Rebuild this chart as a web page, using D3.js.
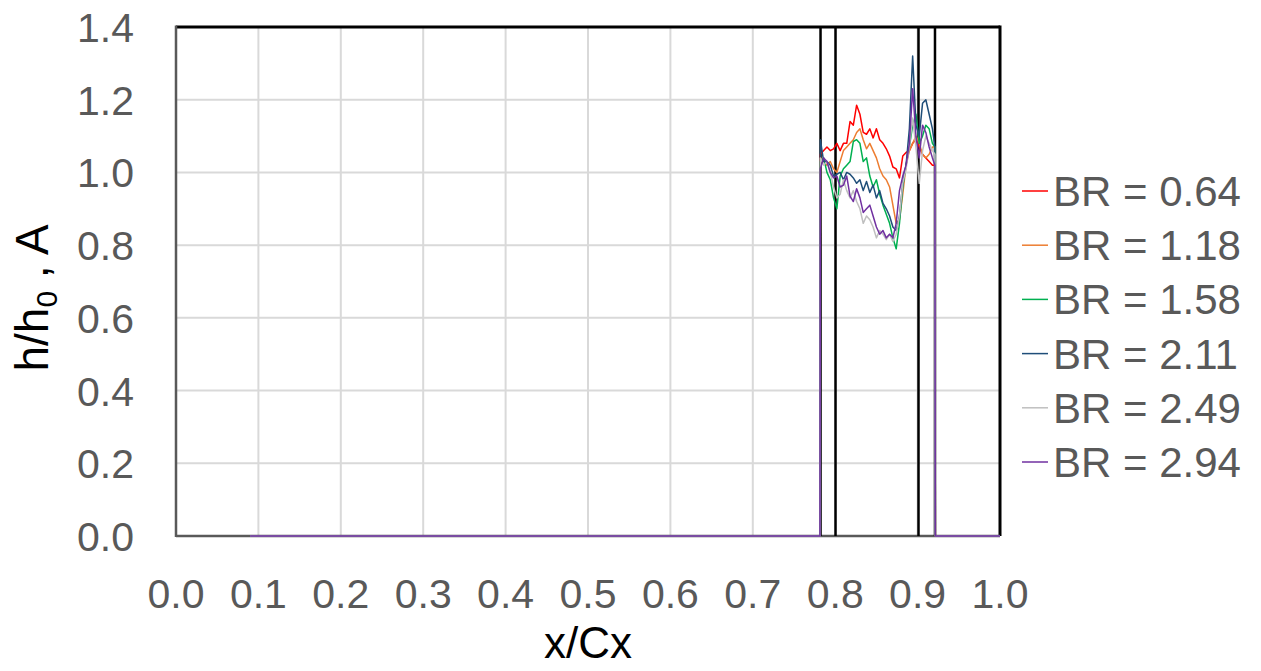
<!DOCTYPE html>
<html>
<head>
<meta charset="utf-8">
<script src="https://cdn.jsdelivr.net/npm/d3@7"></script>
<style>
  body { margin: 0; background: #fff; }
  svg { display: block; }
  text { font-family: "Liberation Sans", Arial, sans-serif; }
</style>
</head>
<body>
<script>
// x positions of the measured profile (x/Cx)
var xs = [0.782, 0.786, 0.790, 0.794, 0.798, 0.802, 0.806, 0.810, 0.814, 0.818,
          0.822, 0.826, 0.830, 0.834, 0.838, 0.842, 0.846, 0.850, 0.854, 0.858,
          0.862, 0.866, 0.870, 0.874, 0.878, 0.882, 0.886, 0.890, 0.894, 0.898,
          0.902, 0.906, 0.910, 0.914, 0.918, 0.921];

var br064 = [1.05, 1.06, 1.07, 1.06, 1.065, 1.08, 1.06, 1.08, 1.08, 1.14,
             1.13, 1.185, 1.16, 1.11, 1.105, 1.12, 1.095, 1.12, 1.09, 1.08,
             1.065, 1.045, 1.015, 1.01, 0.985, 1.045, 1.055, 1.06, 1.08, 1.09,
             1.07, 1.05, 1.04, 1.03, 1.02, 1.02];
var br118 = [1.04, 1.03, 1.02, 1.03, 1.01, 1.0, 1.03, 1.06, 1.07, 1.08,
             1.09, 1.11, 1.12, 1.09, 1.065, 1.08, 1.06, 1.04, 1.01, 0.99,
             0.98, 0.96, 0.91, 0.86, 0.87, 0.94, 1.02, 1.06, 1.08, 1.10,
             1.08, 1.05, 1.04, 1.05, 1.07, 1.07];
var br158 = [1.03, 1.04, 1.0, 0.98, 0.93, 0.90, 0.99, 1.01, 1.02, 1.03,
             1.085, 1.09, 1.08, 1.03, 1.04, 0.99, 0.96, 0.98, 0.94, 0.91,
             0.885, 0.86, 0.82, 0.79, 0.86, 0.96, 1.02, 1.07, 1.13, 1.16,
             1.08, 1.10, 1.13, 1.12, 1.08, 1.07];
var br211 = [1.09, 1.03, 1.03, 1.02, 0.99, 0.995, 1.0, 0.98, 1.0, 0.995,
             0.985, 0.97, 0.98, 0.95, 0.975, 0.945, 0.965, 0.93, 0.95, 0.915,
             0.90, 0.88, 0.85, 0.84, 0.88, 0.97, 1.02, 1.12, 1.32, 1.13,
             1.10, 1.19, 1.20, 1.16, 1.12, 1.07];
var br249 = [1.04, 1.02, 1.03, 1.0, 0.96, 0.93, 0.94, 0.98, 0.95, 0.93,
             0.95, 0.92, 0.90, 0.86, 0.88, 0.87, 0.85, 0.82, 0.84, 0.83,
             0.815, 0.83, 0.81, 0.83, 0.88, 0.97, 1.01, 1.07, 1.15, 1.07,
             0.97, 1.06, 1.10, 1.08, 1.06, 1.05];
var br294 = [1.01, 1.04, 1.03, 1.0, 0.985, 0.99, 0.96, 0.965, 0.99, 0.935,
             0.92, 0.955, 0.93, 0.89, 0.90, 0.91, 0.88, 0.85, 0.83, 0.84,
             0.82, 0.83, 0.82, 0.86, 0.95, 0.99, 1.02, 1.08, 1.23, 1.10,
             1.04, 1.13, 1.11, 1.07, 1.04, 1.02];

var seriesNames = ['BR = 0.64', 'BR = 1.18', 'BR = 1.58', 'BR = 2.11', 'BR = 2.49', 'BR = 2.94'];
var seriesValues = [br064, br118, br158, br211, br249, br294];
var seriesColors = ['#FF0000', '#ED7D31', '#00B050', '#1F4E79', '#BFBFBF', '#7030A0'];

// A: blade passage markers (vertical lines from 0 to 1.4)
var aX = [0.7822, 0.8004, 0.9011, 0.9211];

// zero stretches either side of the measured range
var zeroStart = 0.09, zeroEnd = 1.0;

var xTicks = [0.0, 0.1, 0.2, 0.3, 0.4, 0.5, 0.6, 0.7, 0.8, 0.9, 1.0];
var yTicks = [0.0, 0.2, 0.4, 0.6, 0.8, 1.0, 1.2, 1.4];

var chartW = 1261, chartH = 671;
var padLeft = 176, padTop = 27, plotW = 824, plotH = 509;

var svg = d3.select('body').append('svg')
            .attr('width', chartW)
            .attr('height', chartH);

var x = d3.scaleLinear().domain([0, 1]).range([padLeft, padLeft + plotW]);
var y = d3.scaleLinear().domain([0, 1.4]).range([padTop + plotH, padTop]);

// gridlines
svg.append('g').selectAll('line')
   .data(xTicks.slice(1, -1))
   .enter().append('line')
   .attr('x1', function (d) { return x(d); })
   .attr('x2', function (d) { return x(d); })
   .attr('y1', y(0)).attr('y2', y(1.4))
   .attr('stroke', '#D9D9D9').attr('stroke-width', 2);

svg.append('g').selectAll('line')
   .data(yTicks.slice(1, -1))
   .enter().append('line')
   .attr('x1', x(0)).attr('x2', x(1))
   .attr('y1', function (d) { return y(d); })
   .attr('y2', function (d) { return y(d); })
   .attr('stroke', '#D9D9D9').attr('stroke-width', 2);

// frame: top and right black, axes grey
svg.append('line').attr('x1', x(0)).attr('x2', x(1)).attr('y1', y(1.4)).attr('y2', y(1.4))
   .attr('stroke', '#000').attr('stroke-width', 3);
svg.append('line').attr('x1', x(1)).attr('x2', x(1)).attr('y1', y(1.4) - 1.5).attr('y2', y(0))
   .attr('stroke', '#000').attr('stroke-width', 3);
svg.append('line').attr('x1', x(0)).attr('x2', x(0)).attr('y1', y(1.4) - 1.5).attr('y2', y(0) + 1)
   .attr('stroke', '#595959').attr('stroke-width', 2.5);
svg.append('line').attr('x1', x(0)).attr('x2', x(1)).attr('y1', y(0)).attr('y2', y(0))
   .attr('stroke', '#595959').attr('stroke-width', 2.5);

// A series
svg.append('g').selectAll('line')
   .data(aX)
   .enter().append('line')
   .attr('x1', function (d) { return x(d); })
   .attr('x2', function (d) { return x(d); })
   .attr('y1', y(0)).attr('y2', y(1.4))
   .attr('stroke', '#000').attr('stroke-width', 2.5);

// BR series
var line = d3.line()
             .x(function (d) { return x(d[0]); })
             .y(function (d) { return y(d[1]); });

seriesValues.forEach(function (vals, i) {
    var pts = [[zeroStart, 0], [xs[0] - 0.0005, 0]];
    vals.forEach(function (v, j) { pts.push([xs[j], v]); });
    pts.push([xs[xs.length - 1] + 0.0005, 0]);
    pts.push([zeroEnd, 0]);
    svg.append('path')
       .datum(pts)
       .attr('d', line)
       .attr('fill', 'none')
       .attr('stroke', seriesColors[i])
       .attr('stroke-width', 1.5)
       .attr('stroke-linejoin', 'round');
});

// tick labels
svg.append('g').selectAll('text')
   .data(xTicks)
   .enter().append('text')
   .attr('x', function (d) { return x(d); })
   .attr('y', 608)
   .attr('text-anchor', 'middle')
   .attr('font-size', 41)
   .attr('fill', '#595959')
   .text(function (d) { return d3.format('.1f')(d); });

svg.append('g').selectAll('text')
   .data(yTicks)
   .enter().append('text')
   .attr('x', 134)
   .attr('y', function (d) { return y(d) + 15; })
   .attr('text-anchor', 'end')
   .attr('font-size', 41)
   .attr('fill', '#595959')
   .text(function (d) { return d3.format('.1f')(d); });

// axis titles
svg.append('text')
   .attr('x', 588).attr('y', 658)
   .attr('text-anchor', 'middle')
   .attr('font-size', 44)
   .attr('fill', '#000')
   .text('x/Cx');

var yt = svg.append('text')
   .attr('transform', 'translate(48,' + 298 + ') rotate(-90)')
   .attr('text-anchor', 'middle')
   .attr('font-size', 46)
   .attr('fill', '#000');
yt.append('tspan').text('h/h');
yt.append('tspan').attr('font-size', 30).attr('dy', 9).text('0');
yt.append('tspan').attr('dy', -9).text(' , A');

// legend
var legend = svg.append('g').selectAll('g')
   .data(seriesNames)
   .enter().append('g')
   .attr('transform', function (d, i) { return 'translate(1022,' + (191 + i * 54.2) + ')'; });

legend.append('line')
   .attr('x1', 0).attr('x2', 26).attr('y1', 0).attr('y2', 0)
   .attr('stroke', function (d, i) { return seriesColors[i]; })
   .attr('stroke-width', 1.5);

legend.append('text')
   .attr('x', 31).attr('y', 15)
   .attr('font-size', 42)
   .attr('fill', '#595959')
   .text(function (d) { return d; });
</script>
</body>
</html>
